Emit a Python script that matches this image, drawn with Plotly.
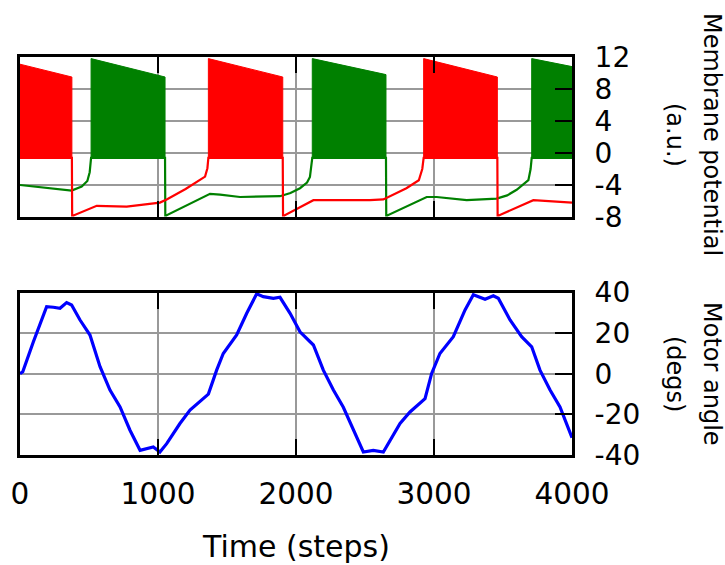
import plotly.graph_objects as go

# ---------------- data ----------------
# spike bursts (drawn as filled envelope): start, end, top of spikes at start / end
spike_floor = -0.6
red_burst_start = [0, 1365, 2925]
red_burst_end = [376, 1904, 3459]
red_burst_top0 = [11.1, 11.8, 11.8]
red_burst_top1 = [9.5, 9.5, 9.5]

green_burst_start = [515, 2118, 3708]
green_burst_end = [1051, 2652, 4000]
green_burst_top0 = [11.8, 11.8, 11.8]
green_burst_top1 = [9.5, 9.8, 10.8]

# membrane potential outside bursts (slow trace)
red_t = [0, 376, 378, 388, 556, 773, 1014, 1063, 1200, 1341, 1358, 1365,
         1904, 1906, 1916, 2126, 2536, 2633, 2800, 2890, 2915, 2925,
         3459, 3461, 3470, 3720, 4000]
red_v = [-0.6, -0.6, -7.8, -7.8, -6.6, -6.7, -6.2, -5.8, -4.5, -2.95, -1.9, -0.6,
         -0.6, -7.8, -7.8, -5.9, -5.9, -5.8, -4.4, -3.4, -2.0, -0.6,
         -0.6, -7.8, -7.8, -5.9, -6.2]

green_t = [0, 200, 374, 447, 488, 505, 512, 515,
           1051, 1053, 1060, 1377, 1450, 1594, 1884, 1960, 2029, 2080, 2101, 2112, 2118,
           2652, 2654, 2662, 2947, 3019, 3237, 3454, 3530, 3599, 3684, 3700, 3708, 4000]
green_v = [-4.0, -4.4, -4.7, -4.2, -3.5, -2.4, -1.2, -0.6,
           -0.6, -7.8, -7.8, -5.1, -5.2, -5.5, -5.4, -5.0, -4.4, -3.7, -3.0, -1.6, -0.6,
           -0.6, -7.8, -7.8, -5.5, -5.5, -5.9, -5.7, -5.3, -4.6, -3.4, -2.0, -0.6, -0.6]

# motor angle
motor_t = [0, 20, 97, 145, 193, 242, 290, 338, 374, 435, 507, 580, 652, 725, 797, 870,
           918, 966, 1014, 1063, 1159, 1232, 1365, 1425, 1473, 1570, 1643, 1715, 1763,
           1836, 1884, 1957, 2029, 2126, 2198, 2271, 2343, 2415, 2488, 2560, 2633, 2754,
           2826, 2935, 2983, 3043, 3140, 3225, 3285, 3370, 3430, 3466, 3551, 3635, 3708,
           3768, 3841, 3913, 3986, 4000]
motor_v = [0, 1.0, 15.8, 24.9, 33.1, 32.8, 32.3, 35.1, 33.9, 26.5, 19.1, 3.5, -8.0, -16.3,
           -27.8, -37.7, -36.8, -36.0, -38.5, -34.4, -24.5, -17.9, -10.0, 1.8, 10.0, 19.1,
           29.8, 39.4, 38.0, 37.2, 37.7, 29.8, 20.7, 14.2, 1.8, -8.0, -16.5, -27.0, -38.5,
           -37.7, -38.5, -24.5, -18.8, -12.2, 0.2, 10.0, 18.3, 31.5, 38.9, 36.7, 38.4, 37.2,
           26.5, 18.3, 13.3, 1.8, -8.0, -16.3, -29.4, -31.5]

x_ticks = [0, 1000, 2000, 3000, 4000]
x_labels = ["0", "1000", "2000", "3000", "4000"]
y1_ticks = [-8, -4, 0, 4, 8, 12]
y1_labels = ["-8", "-4", "0", "4", "8", "12"]
y2_ticks = [-40, -20, 0, 20, 40]
y2_labels = ["-40", "-20", "0", "20", "40"]

RED = "#ff0000"
GREEN = "#008000"
BLUE = "#0000ff"
FONT = "DejaVu Sans"

fig = go.Figure()


def add_bursts(starts, ends, tops0, tops1, color):
    for s, e, a, b in zip(starts, ends, tops0, tops1):
        fig.add_trace(go.Scatter(
            x=[s, s, e, e, s], y=[spike_floor, a, b, spike_floor, spike_floor],
            mode="lines", fill="toself", fillcolor=color,
            line=dict(color=color, width=1), xaxis="x", yaxis="y",
            hoverinfo="skip", showlegend=False))


add_bursts(red_burst_start, red_burst_end, red_burst_top0, red_burst_top1, RED)
add_bursts(green_burst_start, green_burst_end, green_burst_top0, green_burst_top1, GREEN)

fig.add_trace(go.Scatter(x=green_t, y=green_v, mode="lines",
                         line=dict(color=GREEN, width=2.2), xaxis="x", yaxis="y",
                         showlegend=False))
fig.add_trace(go.Scatter(x=red_t, y=red_v, mode="lines",
                         line=dict(color=RED, width=2.2), xaxis="x", yaxis="y",
                         showlegend=False))
fig.add_trace(go.Scatter(x=motor_t, y=motor_v, mode="lines",
                         line=dict(color=BLUE, width=3.2), xaxis="x2", yaxis="y2",
                         showlegend=False))

GRID = "#999999"
common_x = dict(range=[0, 4000], tickvals=x_ticks, ticktext=x_labels, showgrid=True,
                gridcolor=GRID, gridwidth=2, showline=True, linecolor="black",
                linewidth=3, mirror="ticks", ticks="inside", ticklen=16, tickwidth=2,
                tickcolor="black", zeroline=False)
common_y = dict(side="right", showgrid=True, gridcolor=GRID, gridwidth=2,
                showline=True, linecolor="black", linewidth=3, mirror=True,
                ticks="inside", ticklen=17, tickwidth=2, tickcolor="black",
                zeroline=False, tickfont=dict(size=28, color="black", family=FONT),
                ticklabelstandoff=14)

fig.update_layout(
    width=725, height=565,
    margin=dict(l=20, r=153, t=57, b=110),
    paper_bgcolor="white", plot_bgcolor="white",
    font=dict(family=FONT, color="black"),
    showlegend=False,
    xaxis=dict(**common_x, anchor="y", showticklabels=False, domain=[0, 1]),
    yaxis=dict(**common_y, range=[-8, 12], tickvals=y1_ticks, ticktext=y1_labels,
               anchor="x", domain=[0.598, 1]),
    xaxis2=dict(**common_x, anchor="y2", showticklabels=True, domain=[0, 1],
                tickfont=dict(size=29.5, color="black", family=FONT),
                ticklabelstandoff=11),
    yaxis2=dict(**common_y, range=[-40, 40], tickvals=y2_ticks, ticktext=y2_labels,
                anchor="x2", domain=[0, 0.408]),
)

title_font = dict(size=24, color="black", family=FONT)
fig.add_annotation(text="Membrane potential", x=1.2536, y=0.804, xref="paper", yref="paper",
                   textangle=90, showarrow=False, font=title_font,
                   xanchor="center", yanchor="middle")
fig.add_annotation(text="(a.u.)", x=1.1866, y=0.804, xref="paper", yref="paper",
                   textangle=90, showarrow=False, font=title_font,
                   xanchor="center", yanchor="middle")
fig.add_annotation(text="Motor angle", x=1.2536, y=0.2035, xref="paper", yref="paper",
                   textangle=90, showarrow=False, font=title_font,
                   xanchor="center", yanchor="middle")
fig.add_annotation(text="(degs)", x=1.1866, y=0.2035, xref="paper", yref="paper",
                   textangle=90, showarrow=False, font=title_font,
                   xanchor="center", yanchor="middle")
fig.add_annotation(text="Time (steps)", x=0.5, y=-0.231, xref="paper", yref="paper",
                   showarrow=False, font=dict(size=30, color="black", family=FONT),
                   xanchor="center", yanchor="middle")

# remove the browser's default 8px body margin so the 725x565 figure fills the window
fig.write_html("out.html", config={"displayModeBar": False},
               post_script="document.body.style.margin='0';")
